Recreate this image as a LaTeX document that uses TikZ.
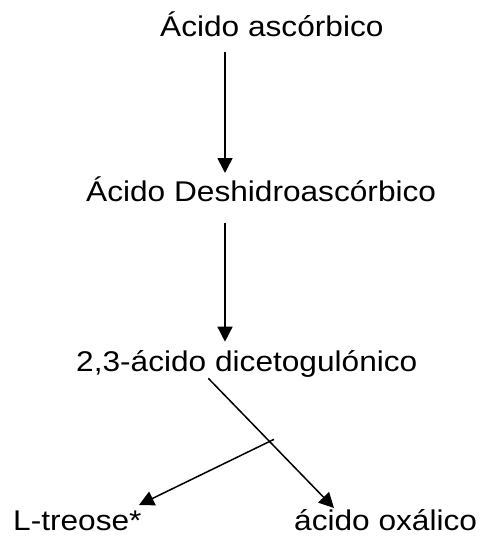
\documentclass[tikz,border=0pt]{standalone}
\usepackage{fontspec}
\setmainfont{Liberation Sans}[FakeStretch=1.11]
\usetikzlibrary{arrows.meta,calc}
\begin{document}
\begin{tikzpicture}[x=1pt,y=1pt,
  lbl/.style={inner sep=0pt, anchor=base west, font=\fontsize{28.5}{32}\selectfont},
  arr/.style={line width=1.5pt, -{Triangle[length=15pt,width=15pt]}}]
\useasboundingbox[fill=white] (0,0) rectangle (485,-543);

% compounds of the degradation pathway
\node[lbl] (t1) at (160,-36.7) {Ácido ascórbico};
\node[lbl] (t2) at (86,-201.7) {Ácido Deshidroascórbico};
\node[lbl] (t3) at (76,-371.7) {2,3-ácido dicetogulónico};
\node[lbl] (t4) at (13,-530) {L-treose*};
\node[lbl] (t5) at (294,-530) {ácido oxálico};

% vertical reaction steps
\draw[arr] ($(t1.base west)+(65,-15.3)$) -- ($(t2.base west)+(139,28.7)$);
\draw[arr] ($(t2.base west)+(139,-21)$) -- ($(t3.base west)+(149,30)$);

% cleavage into the two products
\coordinate (fork) at ($(t3.base west)+(198,-67.6)$);
\draw[arr] ($(t3.base west)+(132.3,-6.6)$) -- ($(t5.base west)+(40,22)$);
\draw[arr] (fork) -- ($(t4.base west)+(126,25)$);
\end{tikzpicture}
\end{document}
